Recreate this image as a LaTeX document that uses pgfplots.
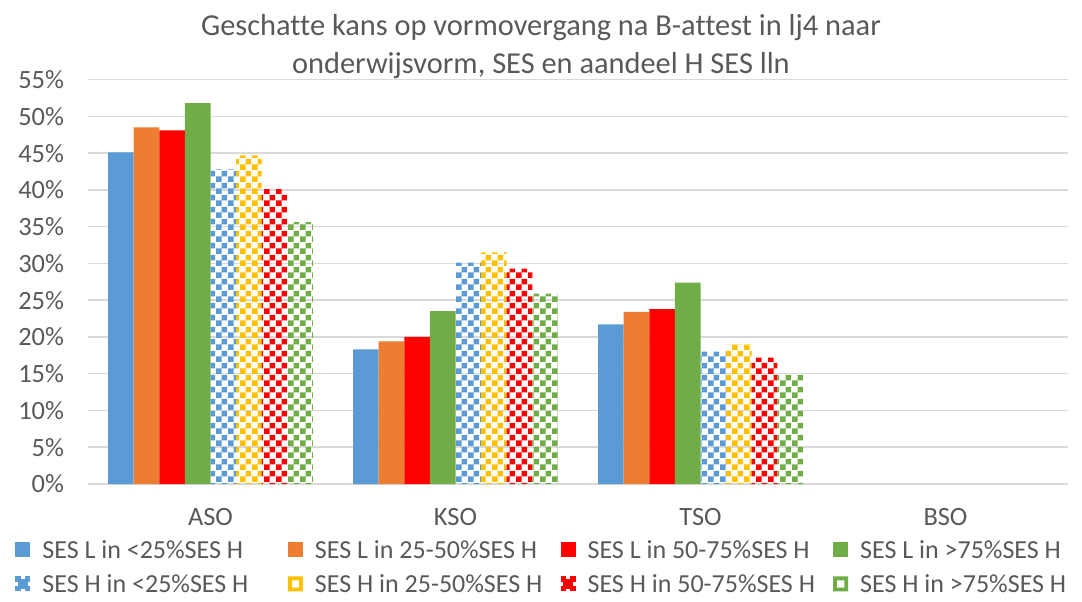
\documentclass[border=0pt]{standalone}
\usepackage{fontspec}
\setmainfont{Carlito}[Ligatures=NoCommon]
\usepackage{pgfplots}
\usepackage{pgfplotstable}
\pgfplotsset{compat=1.18}
\usetikzlibrary{patterns}
\definecolor{cblue}{HTML}{5B9BD5}
\definecolor{corange}{HTML}{ED7D31}
\definecolor{cred}{HTML}{FF0000}
\definecolor{cgreen}{HTML}{70AD47}
\definecolor{cyellow}{HTML}{FFC000}
\definecolor{txt}{HTML}{595959}
\definecolor{gridc}{HTML}{D9D9D9}
\pgfdeclarepatternformonly{bigcheck}{\pgfpointorigin}{\pgfqpoint{6pt}{6pt}}{\pgfqpoint{6pt}{6pt}}{%
 \pgfpathrectangle{\pgfpointorigin}{\pgfqpoint{3pt}{3pt}}%
 \pgfpathrectangle{\pgfqpoint{3pt}{3pt}}{\pgfqpoint{3pt}{3pt}}%
 \pgfusepath{fill}}
\pgfplotstableread{
x LA LB LC LD HA HB HC HD
0 45.1 48.5 48.1 51.8 42.8 44.7 40.1 35.6
1 18.3 19.4 20.0 23.5 30.1 31.5 29.3 25.9
2 21.7 23.4 23.8 27.4 18.0 19.0 17.2 14.9
}\data
\newcommand{\LE}[1]{\makebox[122.8pt][l]{#1}}
\pgfplotsset{
 legcross/.style={legend image code/.code={%
   \fill[#1] (0pt,-3.75pt) rectangle (7.5pt,3.75pt);
   \fill[white] (2.6pt,-3.75pt) rectangle (4.9pt,-2.4pt);
   \fill[white] (2.6pt,2.4pt) rectangle (4.9pt,3.75pt);
   \fill[white] (0pt,-1.15pt) rectangle (1.4pt,1.15pt);
   \fill[white] (6.1pt,-1.15pt) rectangle (7.5pt,1.15pt);}},
 legring/.style={legend image code/.code={%
   \fill[#1, even odd rule] (0pt,-3.75pt) rectangle (7.5pt,3.75pt) (1.9pt,-1.85pt) rectangle (5.6pt,1.85pt);}},
}
\begin{document}
\begin{tikzpicture}
\useasboundingbox (0,0) rectangle (541pt,300.5pt);
\begin{axis}[
 at={(44pt,58.5pt)}, anchor=south west,
 scale only axis, width=490pt, height=202.2pt,
 ybar=0pt, bar width=12.8pt,
 xmin=-0.5, xmax=3.5, ymin=0, ymax=55,
 xtick={0,1,2,3}, xticklabels={ASO,KSO,TSO,BSO},
 ytick={0,5,...,55},
 yticklabel={\pgfmathprintnumber{\tick}\%},
 ymajorgrids, grid style={gridc, line width=0.75pt},
 axis x line*=bottom, axis y line*=left,
 y axis line style={draw=none},
 x axis line style={gridc, line width=0.75pt, -},
 major tick length=0pt,
 tick label style={font=\fontsize{13.2}{15}\selectfont, text=txt},
 yticklabel style={xshift=-8.5pt},
 xticklabel style={yshift=-8.5pt},
 /pgf/number format/assume math mode=true,
 legend columns=4,
 legend cell align=left,
 legend style={at={(-0.07449,-0.2052)}, anchor=west, draw=none, inner sep=0pt,
   font=\fontsize{13}{15}\selectfont, text=txt, row sep=8pt,
   nodes={inner sep=0pt, text height=9pt, text depth=0pt},
   /tikz/every odd column/.append style={column sep=6pt}},
 legend image code/.code={\fill[#1] (0pt,-3.75pt) rectangle (7.5pt,3.75pt);},
]
\addplot[fill=cblue, draw=none] table[x=x,y=LA] {\data};
\addplot[fill=corange, draw=none] table[x=x,y=LB] {\data};
\addplot[fill=cred, draw=none] table[x=x,y=LC] {\data};
\addplot[fill=cgreen, draw=none] table[x=x,y=LD] {\data};
\addplot[pattern=bigcheck, pattern color=cblue, draw=none, legcross=cblue] table[x=x,y=HA] {\data};
\addplot[pattern=bigcheck, pattern color=cyellow, draw=none, legring=cyellow] table[x=x,y=HB] {\data};
\addplot[pattern=bigcheck, pattern color=cred, draw=none, legcross=cred] table[x=x,y=HC] {\data};
\addplot[pattern=bigcheck, pattern color=cgreen, draw=none, legring=cgreen] table[x=x,y=HD] {\data};
\legend{\LE{SES L in <25\%SES H}, \LE{SES L in 25-50\%SES H}, \LE{SES L in 50-75\%SES H}, \LE{SES L in >75\%SES H},
\LE{SES H in <25\%SES H}, \LE{SES H in 25-50\%SES H}, \LE{SES H in 50-75\%SES H}, \LE{SES H in >75\%SES H}}
\end{axis}
\node[align=center, font=\fontsize{15.2}{19}\selectfont, text=txt] at (270.5pt,277.3pt)
 {Geschatte kans op vormovergang na B-attest in lj4 naar\\onderwijsvorm, SES en aandeel H SES lln};
\end{tikzpicture}
\end{document}
